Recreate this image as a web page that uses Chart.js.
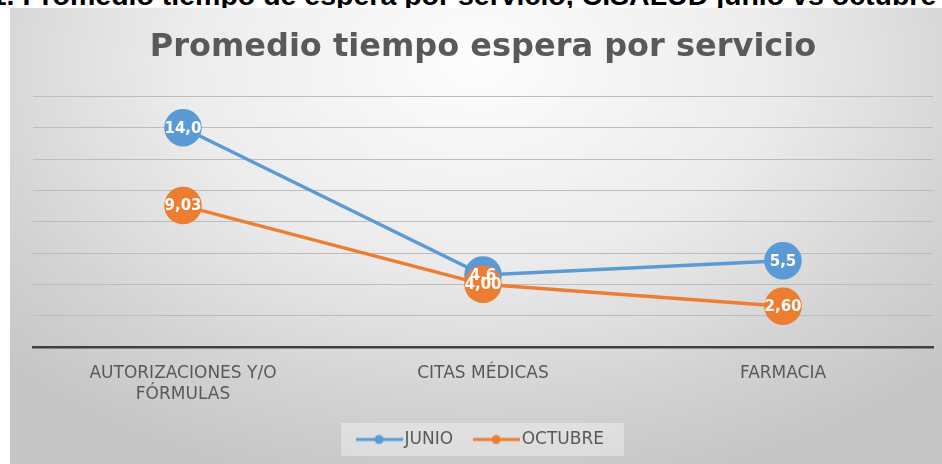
<!DOCTYPE html>
<html>
<head>
<meta charset="utf-8">
<script src="https://cdn.jsdelivr.net/npm/chart.js@4.4.1/dist/chart.umd.min.js"></script>
<style>
  html, body { margin: 0; padding: 0; background: #fff; width: 942px; height: 464px; overflow: hidden; position: relative; }
  #caption { position: absolute; top: -19.5px; left: -33px; font: bold 28.5px "Liberation Sans", Arial, sans-serif; line-height: 28.5px; white-space: nowrap; color: #000; }
  #box { position: absolute; left: 10px; top: 8px; width: 932px; height: 456px;
    background: radial-gradient(ellipse 70% 95% at 50% 12%, #fdfdfd 0%, #ececec 45%, #d2d2d2 80%, #c6c6c6 100%); }
</style>
</head>
<body>
<div id="caption">1.1. Promedio tiempo de espera por servicio, CISALUD junio vs octubre</div>
<div id="box"><canvas id="chart"></canvas></div>
<script>
// categorias y series
const categorias = [["AUTORIZACIONES Y/O", "FÓRMULAS"], "CITAS MÉDICAS", "FARMACIA"];
const junio = [14.0, 4.6, 5.5];
const octubre = [9.03, 4.00, 2.60];
const decimales = [1, 2];
const yTicks = [0, 2, 4, 6, 8, 10, 12, 14, 16];

const FONT = '"DejaVu Sans", sans-serif';
const azul = '#5B9BD5';
const naranja = '#ED7D31';

// icono de leyenda: linea con punto
function legendIcon(color) {
  const c = document.createElement('canvas');
  c.width = 47; c.height = 12;
  const g = c.getContext('2d');
  g.strokeStyle = color; g.lineWidth = 3;
  g.beginPath(); g.moveTo(0, 6); g.lineTo(47, 6); g.stroke();
  g.fillStyle = color;
  g.beginPath(); g.arc(23.5, 6, 4.5, 0, Math.PI * 2); g.fill();
  return c;
}

// caja de leyenda
const legendBg = {
  id: 'legendBg',
  beforeDraw(chart) {
    const lg = chart.legend;
    if (!lg || !lg.legendHitBoxes.length) return;
    const hb = lg.legendHitBoxes;
    const l = Math.min(...hb.map(h => h.left)) - 21;
    const r = Math.max(...hb.map(h => h.left + h.width)) + 20;
    const cy = hb[0].top + hb[0].height / 2;
    const ctx = chart.ctx;
    ctx.save();
    ctx.fillStyle = 'rgba(255,255,255,0.35)';
    ctx.fillRect(l, cy - 16.5, r - l, 33);
    ctx.restore();
  }
};

// etiquetas dentro de los puntos
const pointLabels = {
  id: 'pointLabels',
  afterDatasetsDraw(chart) {
    const ctx = chart.ctx;
    ctx.save();
    ctx.font = 'bold 15px ' + FONT;
    ctx.fillStyle = '#ffffff';
    ctx.textAlign = 'center';
    ctx.textBaseline = 'middle';
    chart.data.datasets.forEach((ds, i) => {
      const meta = chart.getDatasetMeta(i);
      meta.data.forEach((pt, j) => {
        const txt = ds.data[j].toFixed(decimales[i]).replace('.', ',');
        ctx.fillText(txt, pt.x, pt.y + 1);
      });
    });
    ctx.restore();
  }
};

const data = {
  labels: categorias,
  datasets: [
    {label: 'JUNIO', data: junio, borderColor: azul, backgroundColor: azul, borderWidth: 3.5,
     pointRadius: 17, pointHoverRadius: 17, pointBackgroundColor: azul, pointBorderColor: azul, order: 1,
     pointStyle: 'circle', tension: 0},
    {label: 'OCTUBRE', data: octubre, borderColor: naranja, backgroundColor: naranja, borderWidth: 3.5,
     pointRadius: 17, pointHoverRadius: 17, pointBackgroundColor: naranja, pointBorderColor: naranja, order: 0,
     pointStyle: 'circle', tension: 0}
  ]
};

const icons = [legendIcon(azul), legendIcon(naranja)];

const config = {
  type: 'line',
  data: data,
  options: {
    responsive: true,
    maintainAspectRatio: false,
    animation: false,
    layout: {autoPadding: false, padding: {left: 23, right: 9, top: 0, bottom: 7}},
    plugins: {
      title: {
        display: true,
        text: 'Promedio tiempo espera por servicio',
        color: '#595959',
        font: {family: FONT, size: 32, weight: 'bold'},
        padding: {top: 20, bottom: 30}
      },
      legend: {
        position: 'bottom',
        maxHeight: 52,
        labels: {
          usePointStyle: true,
          pointStyleWidth: 34,
          color: '#595959',
          font: {family: FONT, size: 17},
          padding: 26,
          generateLabels(chart) {
            return chart.data.datasets.map((ds, i) => ({
              text: ds.label, datasetIndex: i, pointStyle: icons[i],
              fillStyle: ds.borderColor, strokeStyle: ds.borderColor, lineWidth: 0, hidden: false,
              fontColor: '#595959'
            }));
          }
        }
      },
      tooltip: {enabled: false}
    },
    scales: {
      x: {
        offset: true,
        afterFit(s) { s.height = 58; },
        grid: {display: false, drawTicks: false},
        border: {display: true, color: '#404040', width: 2.5},
        ticks: {color: '#595959', font: {family: FONT, size: 17, lineHeight: 1.24}, padding: 16, maxRotation: 0}
      },
      y: {
        min: 0, max: 16,
        afterBuildTicks(s) { s.ticks = yTicks.map(v => ({value: v})); },
        afterFit(s) { s.width = 0; },
        ticks: {display: false},
        grid: {color: '#bcbcbc', lineWidth: 1, drawTicks: false},
        border: {display: false}
      }
    }
  },
  plugins: [legendBg, pointLabels]
};

const chart = new Chart(document.getElementById('chart'), config);
</script>
</body>
</html>
